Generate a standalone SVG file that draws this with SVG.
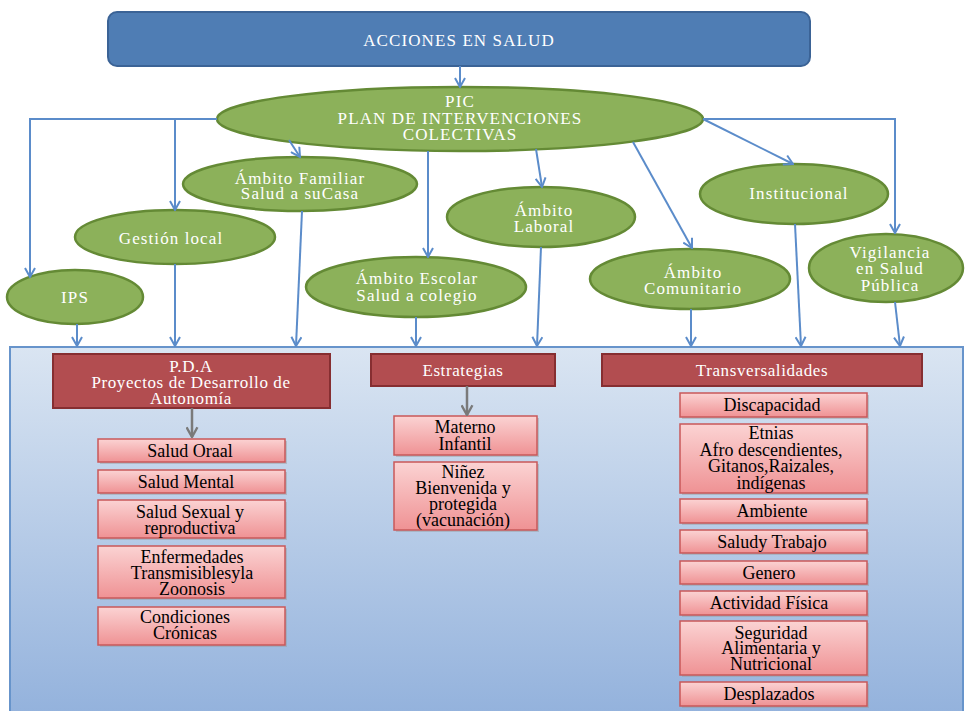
<svg xmlns="http://www.w3.org/2000/svg" width="965" height="711" viewBox="0 0 965 711">
<defs>
  <linearGradient id="panelG" x1="0" y1="0" x2="0" y2="1">
    <stop offset="0" stop-color="#dae5f2"/>
    <stop offset="1" stop-color="#92b1dc"/>
  </linearGradient>
  <linearGradient id="pinkG" x1="0" y1="0" x2="0" y2="1">
    <stop offset="0" stop-color="#fbd3d3"/>
    <stop offset="1" stop-color="#ef9294"/>
  </linearGradient>
  <marker id="ab" viewBox="0 0 12 12" refX="11" refY="6" markerWidth="12" markerHeight="12" markerUnits="userSpaceOnUse" orient="auto">
    <path d="M2,1 L11,6 L2,11" fill="none" stroke="#5b8cca" stroke-width="2"/>
  </marker>
  <marker id="ag" viewBox="0 0 12 12" refX="11" refY="6" markerWidth="13" markerHeight="13" markerUnits="userSpaceOnUse" orient="auto">
    <path d="M2,1 L11,6 L2,11" fill="none" stroke="#7a7a7a" stroke-width="2.2"/>
  </marker>
</defs>
<style>
  .ell { fill: #8cb15a; stroke: #648a35; stroke-width: 2.5; }
  .wt { fill: #ffffff; font-family: "Liberation Serif", "Times New Roman", serif; font-size: 17px; letter-spacing: 1.1px; text-anchor: middle; }
  .red { fill: #b24d50; stroke: #862e31; stroke-width: 2; }
  .rt { fill: #ffffff; font-family: "Liberation Serif", "Times New Roman", serif; font-size: 17px; letter-spacing: 0.6px; text-anchor: middle; }
  .pink { fill: url(#pinkG); stroke: #c9585a; stroke-width: 1.5; }
  .shd { fill: #9a9a9a; opacity: 0.45; }
  .bt { fill: #000000; font-family: "Liberation Serif", "Times New Roman", serif; font-size: 18px; text-anchor: middle; }
  .cb { fill: none; stroke: #5b8cca; stroke-width: 2; marker-end: url(#ab); }
  .cl { fill: none; stroke: #5b8cca; stroke-width: 2; }
  .cg { fill: none; stroke: #7a7a7a; stroke-width: 2.5; marker-end: url(#ag); }
</style>

<rect x="0" y="0" width="965" height="711" fill="#ffffff"/>

<g id="panel">
  <rect x="10" y="347" width="953" height="375" fill="url(#panelG)" stroke="#6794cb" stroke-width="2"/>
</g>

<g id="acciones">
  <rect x="108" y="12" width="702" height="54" rx="9" fill="#4f7db4" stroke="#3b6396" stroke-width="2"/>
  <text class="wt" x="459" y="46">ACCIONES EN SALUD</text>
</g>

<g id="pic">
  <ellipse class="ell" cx="460" cy="119" rx="243" ry="32"/>
  <text class="wt" x="460" y="107">PIC</text>
  <text class="wt" x="460" y="124">PLAN DE INTERVENCIONES</text>
  <text class="wt" x="460" y="140">COLECTIVAS</text>
</g>

<g id="familiar">
  <ellipse class="ell" cx="300" cy="184" rx="117" ry="27"/>
  <text class="wt" x="300" y="184">Ámbito Familiar</text>
  <text class="wt" x="300" y="199">Salud a suCasa</text>
</g>

<g id="gestion">
  <ellipse class="ell" cx="175" cy="237" rx="100" ry="27"/>
  <text class="wt" x="171" y="244">Gestión local</text>
</g>

<g id="ips">
  <ellipse class="ell" cx="75" cy="297" rx="68" ry="27"/>
  <text class="wt" x="75" y="303">IPS</text>
</g>

<g id="escolar">
  <ellipse class="ell" cx="416" cy="287" rx="110" ry="30"/>
  <text class="wt" x="417" y="284">Ámbito Escolar</text>
  <text class="wt" x="417" y="301">Salud a colegio</text>
</g>

<g id="laboral">
  <ellipse class="ell" cx="541" cy="217" rx="94" ry="30"/>
  <text class="wt" x="544" y="216">Ámbito</text>
  <text class="wt" x="544" y="232">Laboral</text>
</g>

<g id="comunitario">
  <ellipse class="ell" cx="690" cy="279" rx="100" ry="30"/>
  <text class="wt" x="693" y="278">Ámbito</text>
  <text class="wt" x="693" y="294">Comunitario</text>
</g>

<g id="institucional">
  <ellipse class="ell" cx="794" cy="194" rx="94" ry="30"/>
  <text class="wt" x="799" y="199">Institucional</text>
</g>

<g id="vigilancia">
  <ellipse class="ell" cx="886" cy="268" rx="77" ry="34"/>
  <text class="wt" x="890" y="258">Vigilancia</text>
  <text class="wt" x="890" y="274">en Salud</text>
  <text class="wt" x="890" y="291">Pública</text>
</g>

<g id="pda">
  <rect class="red" x="53" y="354" width="277" height="54"/>
  <text class="rt" x="191" y="372">P.D.A</text>
  <text class="rt" x="191" y="388">Proyectos de Desarrollo de</text>
  <text class="rt" x="191" y="404">Autonomía</text>
</g>

<g id="estrategias">
  <rect class="red" x="371" y="354" width="184" height="32"/>
  <text class="rt" x="463" y="376">Estrategias</text>
</g>

<g id="transversalidades">
  <rect class="red" x="602" y="354" width="320" height="32"/>
  <text class="rt" x="762" y="376">Transversalidades</text>
</g>

<g id="salud-oraal">
  <rect class="shd" x="100" y="441" width="187" height="23"/>
  <rect class="pink" x="98" y="439" width="187" height="23"/>
  <text class="bt" x="190" y="457">Salud Oraal</text>
</g>
<g id="salud-mental">
  <rect class="shd" x="100" y="472" width="187" height="23"/>
  <rect class="pink" x="98" y="470" width="187" height="23"/>
  <text class="bt" x="186" y="488">Salud Mental</text>
</g>
<g id="salud-sexual">
  <rect class="shd" x="100" y="502" width="187" height="38"/>
  <rect class="pink" x="98" y="500" width="187" height="38"/>
  <text class="bt" x="190" y="518">Salud Sexual y</text>
  <text class="bt" x="190" y="534">reproductiva</text>
</g>
<g id="enfermedades">
  <rect class="shd" x="100" y="548" width="187" height="52"/>
  <rect class="pink" x="98" y="546" width="187" height="52"/>
  <text class="bt" x="192" y="563">Enfermedades</text>
  <text class="bt" x="192" y="579">Transmisiblesyla</text>
  <text class="bt" x="192" y="595">Zoonosis</text>
</g>
<g id="condiciones">
  <rect class="shd" x="100" y="609" width="187" height="38"/>
  <rect class="pink" x="98" y="607" width="187" height="38"/>
  <text class="bt" x="185" y="623">Condiciones</text>
  <text class="bt" x="185" y="639">Crónicas</text>
</g>

<g id="materno">
  <rect class="shd" x="396" y="418" width="143" height="39"/>
  <rect class="pink" x="394" y="416" width="143" height="39"/>
  <text class="bt" x="465" y="433">Materno</text>
  <text class="bt" x="465" y="450">Infantil</text>
</g>
<g id="ninez">
  <rect class="shd" x="396" y="464" width="143" height="68"/>
  <rect class="pink" x="394" y="462" width="143" height="68"/>
  <text class="bt" x="463" y="478">Niñez</text>
  <text class="bt" x="463" y="494">Bienvenida y</text>
  <text class="bt" x="463" y="510">protegida</text>
  <text class="bt" x="463" y="526">(vacunación)</text>
</g>

<g id="discapacidad">
  <rect class="shd" x="682" y="395" width="187" height="24"/>
  <rect class="pink" x="680" y="393" width="187" height="24"/>
  <text class="bt" x="772" y="411">Discapacidad</text>
</g>
<g id="etnias">
  <rect class="shd" x="682" y="426" width="187" height="69"/>
  <rect class="pink" x="680" y="424" width="187" height="69"/>
  <text class="bt" x="771" y="439">Etnias</text>
  <text class="bt" x="771" y="456">Afro descendientes,</text>
  <text class="bt" x="771" y="472">Gitanos,Raizales,</text>
  <text class="bt" x="771" y="489">indígenas</text>
</g>
<g id="ambiente">
  <rect class="shd" x="682" y="501" width="187" height="24"/>
  <rect class="pink" x="680" y="499" width="187" height="24"/>
  <text class="bt" x="772" y="517">Ambiente</text>
</g>
<g id="saludy-trabajo">
  <rect class="shd" x="682" y="532" width="187" height="23"/>
  <rect class="pink" x="680" y="530" width="187" height="23"/>
  <text class="bt" x="772" y="548">Saludy Trabajo</text>
</g>
<g id="genero">
  <rect class="shd" x="682" y="563" width="187" height="23"/>
  <rect class="pink" x="680" y="561" width="187" height="23"/>
  <text class="bt" x="769" y="579">Genero</text>
</g>
<g id="actividad">
  <rect class="shd" x="682" y="593" width="187" height="24"/>
  <rect class="pink" x="680" y="591" width="187" height="24"/>
  <text class="bt" x="769" y="609">Actividad Física</text>
</g>
<g id="seguridad">
  <rect class="shd" x="682" y="623" width="187" height="54"/>
  <rect class="pink" x="680" y="621" width="187" height="54"/>
  <text class="bt" x="771" y="639">Seguridad</text>
  <text class="bt" x="771" y="654">Alimentaria y</text>
  <text class="bt" x="771" y="670">Nutricional</text>
</g>
<g id="desplazados">
  <rect class="shd" x="682" y="684" width="187" height="24"/>
  <rect class="pink" x="680" y="682" width="187" height="24"/>
  <text class="bt" x="769" y="700">Desplazados</text>
</g>

<g id="connectors">
  <line class="cb" x1="460" y1="66" x2="460" y2="87"/>
  <polyline class="cb" points="217,119 30,119 30,277"/>
  <line class="cb" x1="175" y1="119" x2="175" y2="210"/>
  <line class="cb" x1="289" y1="140" x2="300" y2="157"/>
  <line class="cb" x1="428" y1="151" x2="428" y2="257"/>
  <line class="cb" x1="536" y1="149" x2="542" y2="187"/>
  <line class="cb" x1="633" y1="142" x2="692" y2="248"/>
  <line class="cb" x1="703" y1="119" x2="793" y2="164"/>
  <polyline class="cb" points="703,119 895,119 895,233"/>

  <line class="cb" x1="77" y1="324" x2="77" y2="346"/>
  <line class="cb" x1="175" y1="264" x2="175" y2="346"/>
  <line class="cb" x1="302" y1="211" x2="296" y2="346"/>
  <line class="cb" x1="416" y1="317" x2="416" y2="346"/>
  <line class="cb" x1="541" y1="247" x2="537" y2="346"/>
  <line class="cb" x1="691" y1="309" x2="691" y2="346"/>
  <line class="cb" x1="795" y1="224" x2="801" y2="346"/>
  <line class="cb" x1="895" y1="302" x2="900" y2="346"/>

  <line class="cg" x1="192" y1="408" x2="192" y2="437"/>
  <line class="cg" x1="467" y1="386" x2="467" y2="415"/>
</g>
</svg>
